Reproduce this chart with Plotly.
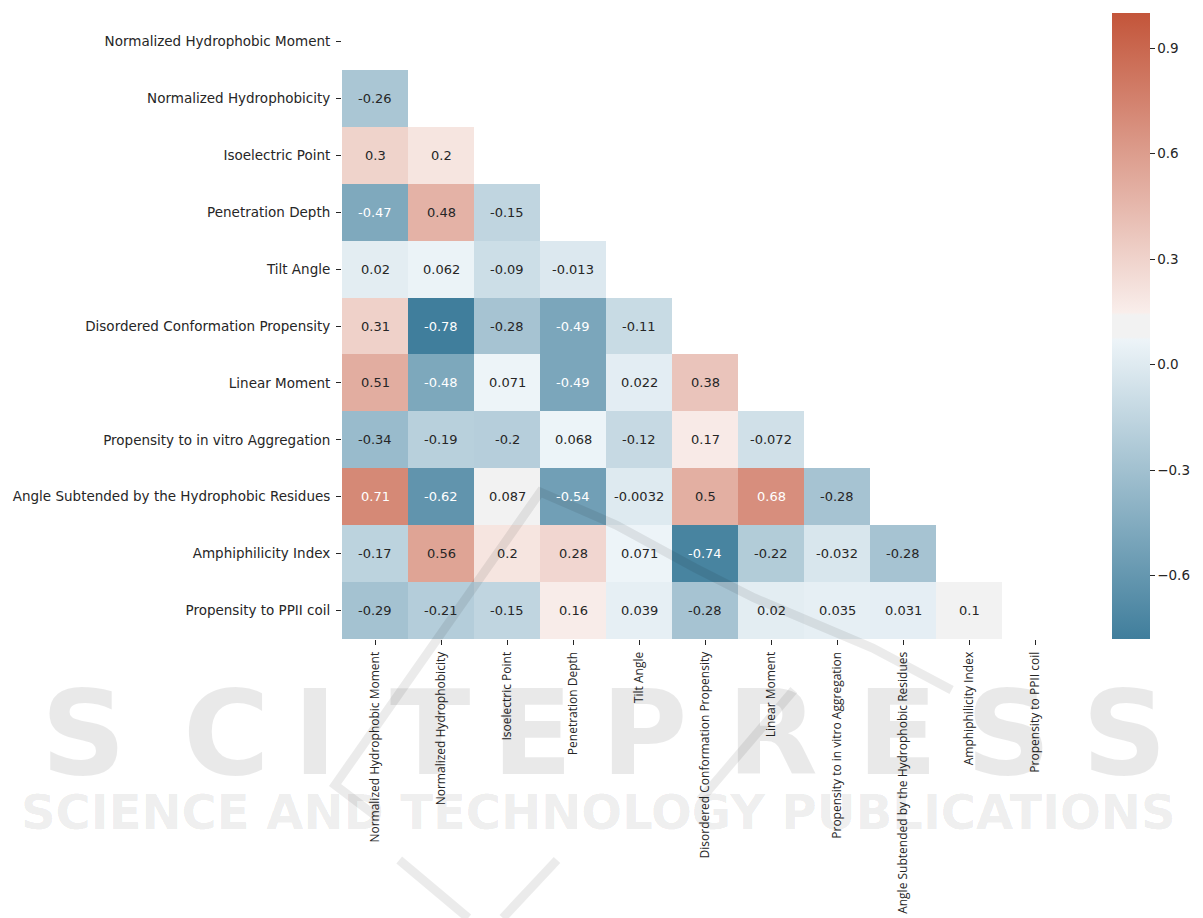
import math
import colorsys
import plotly.graph_objects as go

# ---------------------------------------------------------------- data
features = [
    "Normalized Hydrophobic Moment",
    "Normalized Hydrophobicity",
    "Isoelectric Point",
    "Penetration Depth",
    "Tilt Angle",
    "Disordered Conformation Propensity",
    "Linear Moment",
    "Propensity to in vitro Aggregation",
    "Angle Subtended by the Hydrophobic Residues",
    "Amphiphilicity Index",
    "Propensity to PPII coil",
]

# Pearson coefficients below the diagonal, one list per row
corr_lower = [
    [],
    [-0.26],
    [0.3, 0.2],
    [-0.47, 0.48, -0.15],
    [0.02, 0.062, -0.09, -0.013],
    [0.31, -0.78, -0.28, -0.49, -0.11],
    [0.51, -0.48, 0.071, -0.49, 0.022, 0.38],
    [-0.34, -0.19, -0.2, 0.068, -0.12, 0.17, -0.072],
    [0.71, -0.62, 0.087, -0.54, -0.0032, 0.5, 0.68, -0.28],
    [-0.17, 0.56, 0.2, 0.28, 0.071, -0.74, -0.22, -0.032, -0.28],
    [-0.29, -0.21, -0.15, 0.16, 0.039, -0.28, 0.02, 0.035, 0.031, 0.1],
]

colorbar_ticks = [-0.6, -0.3, 0.0, 0.3, 0.6, 0.9]
VMIN, VMAX = -0.78, 1.0

# ---------------------------------------------------------------- colour map
# HUSL -> sRGB, used to build a blue/red diverging map (hues 230 and 20)
_M = [[3.2406, -1.5372, -0.4986],
      [-0.9689, 1.8758, 0.0415],
      [0.0557, -0.2040, 1.0570]]
_REF_U, _REF_V = 0.19784, 0.46834
_KAPPA, _EPS = 903.2962962, 0.0088564516


def _max_chroma(L, H):
    hrad = math.radians(H)
    sinH, cosH = math.sin(hrad), math.cos(hrad)
    sub1 = (L + 16) ** 3 / 1560896.0
    sub2 = sub1 if sub1 > _EPS else L / _KAPPA
    best = float("inf")
    for m1, m2, m3 in _M:
        top = (0.99915 * m1 + 1.05122 * m2 + 1.14460 * m3) * sub2
        rbottom = 0.86330 * m3 - 0.17266 * m2
        lbottom = 0.12949 * m3 - 0.38848 * m1
        bottom = (rbottom * sinH + lbottom * cosH) * sub2
        for t in (0.0, 1.0):
            c = L * (top - 1.05122 * t) / (bottom + 0.17266 * sinH * t)
            if 0 < c < best:
                best = c
    return best


def _from_linear(c):
    if c <= 0.0031308:
        return 12.92 * c
    return 1.055 * c ** (1 / 2.4) - 0.055


def husl_to_rgb(h, s, l):
    C = _max_chroma(l, h) / 100.0 * s
    hrad = math.radians(h)
    U, V = C * math.cos(hrad), C * math.sin(hrad)
    Y = ((l + 16) / 116) ** 3 if l > 8 else l / _KAPPA
    var_u = U / (13 * l) + _REF_U
    var_v = V / (13 * l) + _REF_V
    X = -(9 * Y * var_u) / ((var_u - 4) * var_v - var_u * var_v)
    Z = (9 * Y - 15 * var_v * Y - var_v * X) / (3 * var_v)
    rgb = [_from_linear(a * X + b * Y + c * Z) for a, b, c in _M]
    return tuple(min(1.0, max(0.0, v)) for v in rgb)


def pale(rgb):
    h, _, s = colorsys.rgb_to_hls(*rgb)
    return colorsys.hls_to_rgb(h, 0.95, s)


neg_end = husl_to_rgb(230, 75, 50)
pos_end = husl_to_rgb(20, 75, 50)
mid_grey = (0.95, 0.95, 0.95)
# 123 blue shades, 10 neutral, 123 red shades over 256 entries
stops = [
    (0.0, neg_end),
    (122 / 255, pale(neg_end)),
    (123 / 255, mid_grey),
    (132 / 255, mid_grey),
    (133 / 255, pale(pos_end)),
    (1.0, pos_end),
]


def cmap(frac):
    frac = min(1.0, max(0.0, frac))
    for (p0, c0), (p1, c1) in zip(stops[:-1], stops[1:]):
        if frac <= p1:
            t = 0 if p1 == p0 else (frac - p0) / (p1 - p0)
            return tuple(a + (b - a) * t for a, b in zip(c0, c1))
    return stops[-1][1]


def css(rgb):
    return "rgb({:.0f},{:.0f},{:.0f})".format(*(255 * v for v in rgb))


def luminance(rgb):
    lin = [v / 12.92 if v <= 0.03928 else ((v + 0.055) / 1.055) ** 2.4 for v in rgb]
    return 0.2126 * lin[0] + 0.7152 * lin[1] + 0.0722 * lin[2]


colorscale = [[p, css(c)] for p, c in stops]

# ---------------------------------------------------------------- matrix
n = len(features)
z = [[None] * n for _ in range(n)]
for i, row in enumerate(corr_lower):
    for j, v in enumerate(row):
        z[i][j] = v

# ---------------------------------------------------------------- geometry (px)
W, H = 1203, 918
PL, PR, PT, PB = 342, 1078, 13, 639
pw, ph = PR - PL, PB - PT


def px(x):
    return (x - PL) / pw


def py(y):
    return (PB - y) / ph


TEXT = "#262626"

fig = go.Figure(
    go.Heatmap(
        z=z,
        x=features,
        y=features,
        zmin=VMIN,
        zmax=VMAX,
        colorscale=colorscale,
        hoverongaps=False,
        xgap=0,
        ygap=0,
        colorbar=dict(
            thickness=38,
            thicknessmode="pixels",
            len=ph,
            lenmode="pixels",
            x=px(1123),
            xanchor="left",
            y=0.5,
            yanchor="middle",
            xpad=0,
            ypad=0,
            outlinewidth=0,
            tickvals=colorbar_ticks,
            tickformat=".1f",
            ticks="outside",
            ticklen=5,
            tickwidth=1,
            tickcolor=TEXT,
            tickfont=dict(family="DejaVu Sans", size=13.5, color=TEXT),
        ),
    )
)

annotations = []
for i, row in enumerate(corr_lower):
    for j, v in enumerate(row):
        rgb = cmap((v - VMIN) / (VMAX - VMIN))
        color = TEXT if luminance(rgb) > 0.408 else "white"
        annotations.append(dict(
            x=features[j], y=features[i], xref="x", yref="y",
            text=format(v, ".2g"), showarrow=False,
            font=dict(family="DejaVu Sans", size=13, color=color),
        ))

# publisher mark in the background
WM = "rgba(0,0,0,0.085)"
big_letters = [("S", 80), ("C", 225), ("I", 315), ("T", 432), ("E", 535),
               ("P", 648), ("R", 778), ("E", 905), ("S", 1018), ("S", 1135)]
for ch, cx in big_letters:
    annotations.append(dict(
        x=px(cx), y=py(733), xref="paper", yref="paper", text=ch,
        showarrow=False, xanchor="center", yanchor="middle",
        font=dict(family="DejaVu Sans", size=118, color=WM, weight="bold"),
    ))
annotations.append(dict(
    x=px(602), y=py(812), xref="paper", yref="paper",
    text="SCIENCE AND TECHNOLOGY PUBLICATIONS",
    showarrow=False, xanchor="center", yanchor="middle",
    font=dict(family="DejaVu Sans", size=48, color=WM, weight="bold"),
))


def path_paper(points):
    cmd = []
    for k, (x, y) in enumerate(points):
        cmd.append(("M" if k == 0 else "L") + " {:.4f},{:.4f}".format(px(x), py(y)))
    return " ".join(cmd)


logo_strokes = [
    [(375, 815), (335, 785), (543, 492), (620, 525), (700, 568), (760, 598), (880, 648), (960, 690)],
    [(800, 690), (705, 800)],
    [(560, 860), (505, 918)],
    [(400, 860), (470, 918)],
]
shapes = [dict(type="path", xref="paper", yref="paper", path=path_paper(pts),
               line=dict(color="rgba(0,0,0,0.08)", width=9))
          for pts in logo_strokes]

fig.update_layout(
    width=W,
    height=H,
    margin=dict(l=PL, r=W - PR, t=PT, b=H - PB, pad=0),
    paper_bgcolor="white",
    plot_bgcolor="white",
    annotations=annotations,
    shapes=shapes,
    xaxis=dict(
        type="category",
        tickangle=-90,
        ticks="outside",
        ticklen=5,
        tickcolor=TEXT,
        ticklabelstandoff=2,
        tickfont=dict(family="Open Sans", size=12, color=TEXT),
        showgrid=False,
        zeroline=False,
        showline=False,
        automargin=False,
    ),
    yaxis=dict(
        type="category",
        autorange="reversed",
        ticks="outside",
        ticklen=5,
        tickcolor=TEXT,
        ticklabelstandoff=3,
        tickfont=dict(family="DejaVu Sans", size=13.5, color=TEXT),
        showgrid=False,
        zeroline=False,
        showline=False,
        automargin=False,
    ),
)

fig.write_html("out.html")
